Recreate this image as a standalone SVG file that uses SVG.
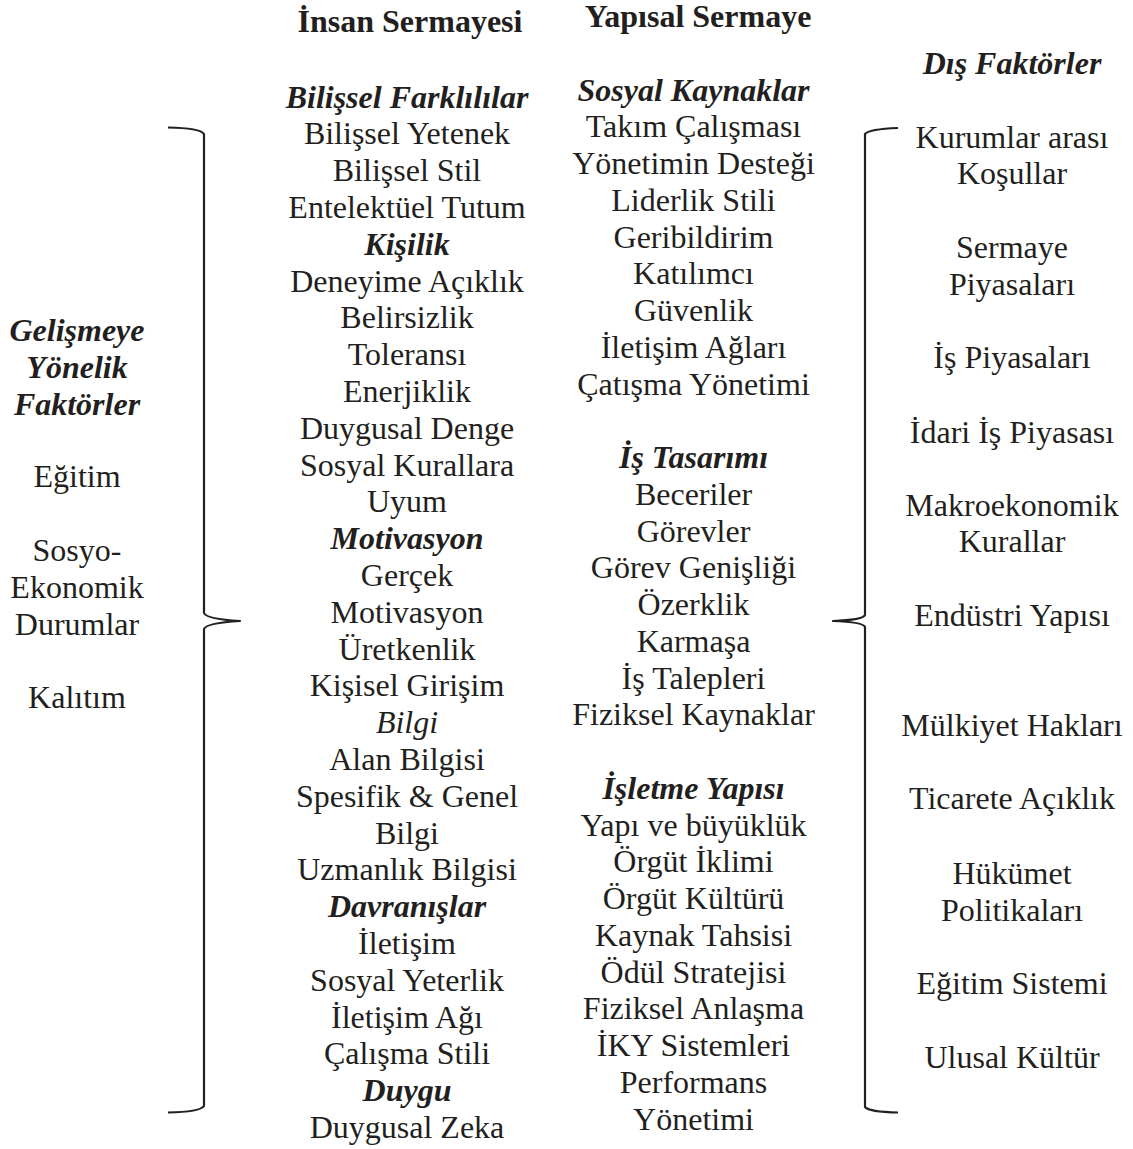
<svg xmlns="http://www.w3.org/2000/svg" width="1133" height="1149" viewBox="0 0 1133 1149">
  <style>
    text { font-family: "Liberation Serif", "Times New Roman", serif; font-size: 32px; fill: #231f20; text-anchor: middle; }
    .h { font-weight: bold; }
    .bi { font-weight: bold; font-style: italic; }
    .i { font-style: italic; }
    .brace { fill: none; stroke: #231f20; stroke-width: 2.2; stroke-linejoin: round; stroke-linecap: butt; }
  </style>
  <rect width="1133" height="1149" fill="#ffffff"/>

  <!-- braces -->
  <g id="braces">
    <path class="brace" d="M168,127.5 Q200,128 204,134 L204,613 Q206,619 240,621 Q206,623 204,629 L204,1106 Q200,1112 168,1112.5"/>
    <path class="brace" d="M898,128 Q869,129 865,134 L865,615 Q863,620 833,621 Q863,622 865,627 L865,1107 Q869,1112 898,1112.5"/>
  </g>

  <!-- developmental factors -->
  <g id="gelisim-faktorleri">
    <text x="77" y="340.5" class="bi">Gelişmeye</text>
    <text x="77" y="377.5" class="bi">Yönelik</text>
    <text x="77" y="414.5" class="bi">Faktörler</text>
    <text x="77" y="486.5">Eğitim</text>
    <text x="77" y="560.5">Sosyo-</text>
    <text x="77" y="597.5">Ekonomik</text>
    <text x="77" y="634.5">Durumlar</text>
    <text x="77" y="707.5">Kalıtım</text>
  </g>

  <!-- human capital -->
  <g id="insan-sermayesi">
    <text x="410" y="31.5" class="h">İnsan Sermayesi</text>
    <text x="407" y="107.5" class="bi">Bilişsel Farklılılar</text>
    <text x="407" y="144.3">Bilişsel Yetenek</text>
    <text x="407" y="181.1">Bilişsel Stil</text>
    <text x="407" y="217.9">Entelektüel Tutum</text>
    <text x="407" y="254.7" class="bi">Kişilik</text>
    <text x="407" y="291.5">Deneyime Açıklık</text>
    <text x="407" y="328.3">Belirsizlik</text>
    <text x="407" y="365.1">Toleransı</text>
    <text x="407" y="401.9">Enerjiklik</text>
    <text x="407" y="438.7">Duygusal Denge</text>
    <text x="407" y="475.5">Sosyal Kurallara</text>
    <text x="407" y="512.3">Uyum</text>
    <text x="407" y="549.1" class="bi">Motivasyon</text>
    <text x="407" y="585.9">Gerçek</text>
    <text x="407" y="622.7">Motivasyon</text>
    <text x="407" y="659.5">Üretkenlik</text>
    <text x="407" y="696.3">Kişisel Girişim</text>
    <text x="407" y="733.1" class="i">Bilgi</text>
    <text x="407" y="769.9">Alan Bilgisi</text>
    <text x="407" y="806.7">Spesifik &amp; Genel</text>
    <text x="407" y="843.5">Bilgi</text>
    <text x="407" y="880.3">Uzmanlık Bilgisi</text>
    <text x="407" y="917.1" class="bi">Davranışlar</text>
    <text x="407" y="953.9">İletişim</text>
    <text x="407" y="990.7">Sosyal Yeterlik</text>
    <text x="407" y="1027.5">İletişim Ağı</text>
    <text x="407" y="1064.3">Çalışma Stili</text>
    <text x="407" y="1101.1" class="bi">Duygu</text>
    <text x="407" y="1137.9">Duygusal Zeka</text>
  </g>

  <!-- structural capital -->
  <g id="yapisal-sermaye">
    <text x="698" y="26.5" class="h">Yapısal Sermaye</text>
    <text x="693.5" y="100.5" class="bi">Sosyal Kaynaklar</text>
    <text x="693.5" y="137.25">Takım Çalışması</text>
    <text x="693.5" y="174">Yönetimin Desteği</text>
    <text x="693.5" y="210.75">Liderlik Stili</text>
    <text x="693.5" y="247.5">Geribildirim</text>
    <text x="693.5" y="284.25">Katılımcı</text>
    <text x="693.5" y="321">Güvenlik</text>
    <text x="693.5" y="357.75">İletişim Ağları</text>
    <text x="693.5" y="394.5">Çatışma Yönetimi</text>
    <text x="693.5" y="468" class="bi">İş Tasarımı</text>
    <text x="693.5" y="504.75">Beceriler</text>
    <text x="693.5" y="541.5">Görevler</text>
    <text x="693.5" y="578.25">Görev Genişliği</text>
    <text x="693.5" y="615">Özerklik</text>
    <text x="693.5" y="651.75">Karmaşa</text>
    <text x="693.5" y="688.5">İş Talepleri</text>
    <text x="693.5" y="725.25">Fiziksel Kaynaklar</text>
    <text x="693.5" y="798.75" class="bi">İşletme Yapısı</text>
    <text x="693.5" y="835.5">Yapı ve büyüklük</text>
    <text x="693.5" y="872.25">Örgüt İklimi</text>
    <text x="693.5" y="909">Örgüt Kültürü</text>
    <text x="693.5" y="945.75">Kaynak Tahsisi</text>
    <text x="693.5" y="982.5">Ödül Stratejisi</text>
    <text x="693.5" y="1019.25">Fiziksel Anlaşma</text>
    <text x="693.5" y="1056">İKY Sistemleri</text>
    <text x="693.5" y="1092.75">Performans</text>
    <text x="693.5" y="1129.5">Yönetimi</text>
  </g>

  <!-- external factors -->
  <g id="dis-faktorler">
    <text x="1012" y="73.5" class="bi">Dış Faktörler</text>
    <text x="1012" y="147.5">Kurumlar arası</text>
    <text x="1012" y="183.5">Koşullar</text>
    <text x="1012" y="257.5">Sermaye</text>
    <text x="1012" y="294.5">Piyasaları</text>
    <text x="1012" y="367.5">İş Piyasaları</text>
    <text x="1012" y="442.5">İdari İş Piyasası</text>
    <text x="1012" y="515.5">Makroekonomik</text>
    <text x="1012" y="551.5">Kurallar</text>
    <text x="1012" y="625.5">Endüstri Yapısı</text>
    <text x="1012" y="735.5">Mülkiyet Hakları</text>
    <text x="1012" y="808.5">Ticarete Açıklık</text>
    <text x="1012" y="883.5">Hükümet</text>
    <text x="1012" y="920.5">Politikaları</text>
    <text x="1012" y="993.5">Eğitim Sistemi</text>
    <text x="1012" y="1067.5">Ulusal Kültür</text>
  </g>
</svg>
